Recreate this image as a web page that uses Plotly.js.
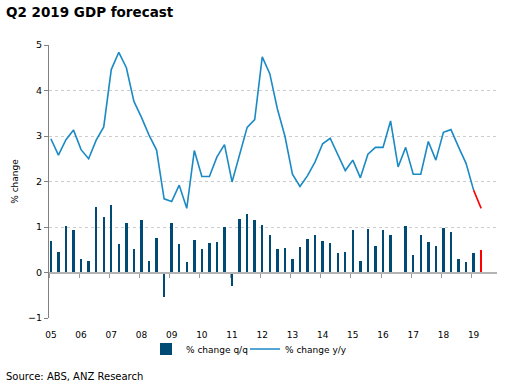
<!DOCTYPE html>
<html>
<head>
<meta charset="utf-8">
<script src="https://cdn.plot.ly/plotly-3.0.1.min.js"></script>
<style>html,body{margin:0;padding:0;background:#fff;}#chart{width:514px;height:390px;}</style>
</head>
<body>
<div id="chart"></div>
<script>
// Quarterly data, 2005 Q1 .. 2019 Q2 (last quarter = forecast)
const yearLabels = ["05","06","07","08","09","10","11","12","13","14","15","16","17","18","19"];
const qoq = [0.70,0.44,1.03,0.93, 0.29,0.25,1.43,1.23, 1.48,0.63,1.09,0.52, 1.15,0.25,0.76,-0.54,
             1.09,0.62,0.24,0.72, 0.51,0.64,0.67,0.99, -0.30,1.18,1.29,1.16, 1.04,0.83,0.51,0.53,
             0.30,0.56,0.74,0.82, 0.70,0.65,0.43,0.46, 0.94,0.25,0.95,0.59, 0.94,0.82,-0.04,1.02,
             0.38,0.82,0.67,0.59, 0.98,0.89,0.30,0.23, 0.43,0.49];
const yoy = [2.94,2.58,2.92,3.13, 2.70,2.50,2.91,3.20, 4.46,4.84,4.50,3.76, 3.41,3.02,2.69,1.62,
             1.56,1.92,1.41,2.68, 2.11,2.11,2.54,2.81, 1.99,2.58,3.19,3.36, 4.74,4.37,3.60,3.00,
             2.16,1.89,2.13,2.43, 2.83,2.95,2.60,2.24, 2.47,2.08,2.60,2.75, 2.75,3.33,2.32,2.75,
             2.16,2.16,2.88,2.47, 3.08,3.14,2.76,2.40, 1.81,1.41];
const forecastCount = 1;

const navy = "#004a74", blue = "#1b8ac4", red = "#ff0000";
const n = qoq.length;
const idx = qoq.map((_, i) => i);
const barColors = idx.map(i => i >= n - forecastCount ? red : navy);
const nA = n - forecastCount;

const font = "DejaVu Sans, Verdana, sans-serif";
const xr = [-0.25, 59.1];
const W = 448, H = 273;

const traces = [
  {type: "bar", x: idx, y: qoq, name: "% change q/q", marker: {color: barColors}, width: 0.32,
   showlegend: false, hoverinfo: "skip"},
  {type: "bar", x: [null], y: [null], name: "% change q/q", marker: {color: navy}, showlegend: true,
   legend: "legend"},
  {type: "scatter", mode: "lines", x: idx.slice(0, nA), y: yoy.slice(0, nA), name: "% change y/y",
   line: {color: blue, width: 1.6}, legend: "legend2"},
  {type: "scatter", mode: "lines", x: idx.slice(nA - 1), y: yoy.slice(nA - 1), name: "forecast",
   line: {color: red, width: 1.6}, showlegend: false},
  {type: "scatter", mode: "lines", x: [0], y: [0], xaxis: "x2", yaxis: "y", showlegend: false,
   line: {width: 0}, hoverinfo: "skip"}
];

const legFont = {family: font, size: 9, color: "#000"};
const layout = {
  width: 514, height: 390,
  margin: {l: 49, r: 17, t: 45, b: 72},
  paper_bgcolor: "#fff", plot_bgcolor: "#fff",
  font: {family: font, size: 9, color: "#000"},
  bargap: 0,
  showlegend: true,
  legend: {orientation: "h", x: (146 - 49) / W, xanchor: "left", y: -31 / H, yanchor: "middle",
           font: legFont, bgcolor: "rgba(0,0,0,0)"},
  legend2: {orientation: "h", x: (245 - 49) / W, xanchor: "left", y: -31 / H, yanchor: "middle",
           font: legFont, bgcolor: "rgba(0,0,0,0)"},
  xaxis: {range: xr, tickmode: "array", tickvals: yearLabels.map((_, k) => 4 * k), ticktext: yearLabels,
          ticks: "", showgrid: false, zeroline: false, showline: false, tickfont: {size: 9},
          ticklabelstandoff: 10},
  xaxis2: {range: xr, overlaying: "x", anchor: "free", position: 1/6, side: "bottom",
           tickmode: "array", tickvals: yearLabels.map((_, k) => 4 * k - 0.25),
           ticks: "outside", ticklen: 4, tickcolor: "#999", tickwidth: 1,
           showticklabels: false, showgrid: false, zeroline: false,
           showline: true, linecolor: "#b4b4b4", linewidth: 2},
  yaxis: {range: [-1, 5], dtick: 1, tick0: 0, ticks: "outside", ticklen: 4, tickcolor: "#808080",
          showline: true, linecolor: "#808080", linewidth: 1,
          showgrid: true, gridcolor: "#cccccc", griddash: "dot", gridwidth: 1,
          zeroline: false, tickfont: {size: 9.5},
          title: {text: "% change", font: {size: 9}, standoff: 7}},
  annotations: [
    {text: "<b>Q2 2019 GDP forecast</b>", xref: "paper", yref: "paper", x: -45/W, y: 1 + 33/H,
     xanchor: "left", yanchor: "middle", showarrow: false, font: {family: font, size: 13.5, color: "#000"}},
    {text: "Source: ABS, ANZ Research", xref: "paper", yref: "paper", x: -45/W, y: -58/H,
     xanchor: "left", yanchor: "middle", showarrow: false, font: {family: font, size: 10, color: "#000"}}
  ]
};

Plotly.newPlot("chart", traces, layout, {staticPlot: true, displayModeBar: false});
</script>
</body>
</html>
